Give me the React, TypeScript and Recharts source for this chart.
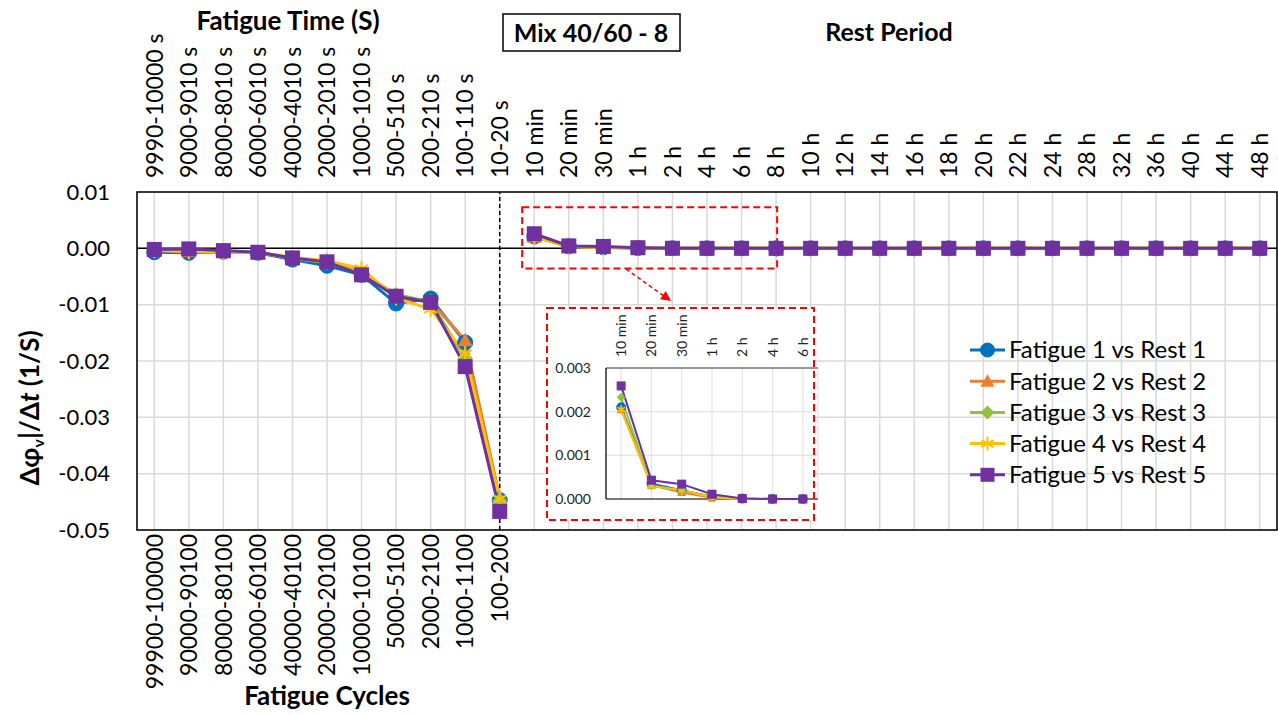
import React from 'react';
import { LineChart, Line, XAxis, YAxis, CartesianGrid, ReferenceLine, ReferenceArea } from 'recharts';

const FONT = 'Lato, "Open Sans", sans-serif';

const fatigueTimeLabels = ['9990-10000 s', '9000-9010 s', '8000-8010 s', '6000-6010 s', '4000-4010 s', '2000-2010 s', '1000-1010 s', '500-510 s', '200-210 s', '100-110 s', '10-20 s'];
const fatigueCycleLabels = ['99900-100000', '90000-90100', '80000-80100', '60000-60100', '40000-40100', '20000-20100', '10000-10100', '5000-5100', '2000-2100', '1000-1100', '100-200'];
const restLabels = ['10 min', '20 min', '30 min', '1 h', '2 h', '4 h', '6 h', '8 h', '10 h', '12 h', '14 h', '16 h', '18 h', '20 h', '22 h', '24 h', '28 h', '32 h', '36 h', '40 h', '44 h', '48 h'];
const yTicks = [-0.05, -0.04, -0.03, -0.02, -0.01, 0, 0.01];
const insetYTicks = [0, 0.001, 0.002, 0.003];

const fatigue1 = [-0.0007, -0.0008, -0.0006, -0.0008, -0.0020, -0.0031, -0.0047, -0.0098, -0.0089, -0.0167, -0.0447];
const fatigue2 = [-0.0003, -0.0005, -0.0007, -0.0007, -0.0018, -0.0025, -0.0042, -0.0087, -0.0094, -0.0163, -0.0443];
const fatigue3 = [-0.0003, -0.0004, -0.0005, -0.0007, -0.0017, -0.0025, -0.0043, -0.0082, -0.0095, -0.0195, -0.0448];
const fatigue4 = [-0.0004, -0.0006, -0.0006, -0.0008, -0.0016, -0.0022, -0.0036, -0.0088, -0.0108, -0.0187, -0.0445];
const fatigue5 = [-0.0002, -0.0001, -0.0004, -0.0007, -0.0017, -0.0024, -0.0047, -0.0085, -0.0096, -0.0210, -0.0467];

const rest1 = [0.0021, 0.00035, 0.0002, 0.00005, 0.00001, 0, 0, 0, 0, 0, 0, 0, 0, 0, 0, 0, 0, 0, 0, 0, 0, 0];
const rest2 = [0.00205, 0.00032, 0.00015, 0.00003, 0, 0, 0, 0, 0, 0, 0, 0, 0, 0, 0, 0, 0, 0, 0, 0, 0, 0];
const rest3 = [0.00233, 0.0003, 0.0002, 0.00005, 0.00001, 0, 0, 0, 0, 0, 0, 0, 0, 0, 0, 0, 0, 0, 0, 0, 0, 0];
const rest4 = [0.00205, 0.0003, 0.0002, 0.00004, 0, 0, 0, 0, 0, 0, 0, 0, 0, 0, 0, 0, 0, 0, 0, 0, 0, 0];
const rest5 = [0.00259, 0.00043, 0.00034, 0.00011, 0.00001, 0, 0, 0, 0, 0, 0, 0, 0, 0, 0, 0, 0, 0, 0, 0, 0, 0];

const seriesNames = ['Fatigue 1 vs Rest 1', 'Fatigue 2 vs Rest 2', 'Fatigue 3 vs Rest 3', 'Fatigue 4 vs Rest 4', 'Fatigue 5 vs Rest 5'];
const seriesColors = ['#0070C0', '#ED7D31', '#8CC43F', '#FFC000', '#7030A0'];
const seriesShapes = ['circle', 'triangle', 'diamond', 'star', 'square'];

const fatigueSeries = [fatigue1, fatigue2, fatigue3, fatigue4, fatigue5];
const restSeries = [rest1, rest2, rest3, rest4, rest5];

const topLabels = [...fatigueTimeLabels, ...restLabels];
const nFat = fatigueTimeLabels.length;
const nCat = topLabels.length;
const insetCount = 7;

// fatigue part (f*) and rest part (r*) are separate segments, not joined across the divider
const mainData = topLabels.map((_, i) => {
  const row: any = { idx: i };
  for (let s = 0; s < 5; s++) {
    row[`f${s}`] = i < nFat ? fatigueSeries[s][i] : null;
    row[`r${s}`] = i >= nFat ? restSeries[s][i - nFat] : null;
  }
  return row;
});

const insetData = restLabels.slice(0, insetCount).map((_, j) => {
  const row: any = { idx: j };
  for (let s = 0; s < 5; s++) row[`r${s}`] = restSeries[s][j];
  return row;
});

function Marker({ shape, cx, cy, size, color }: any) {
  const h = size / 2;
  switch (shape) {
    case 'circle':
      return <circle cx={cx} cy={cy} r={h} fill={color} stroke={color} />;
    case 'triangle':
      return <polygon points={`${cx},${cy - h} ${cx + h},${cy + h * 0.8} ${cx - h},${cy + h * 0.8}`} fill={color} />;
    case 'diamond':
      return <polygon points={`${cx},${cy - h} ${cx + h},${cy} ${cx},${cy + h} ${cx - h},${cy}`} fill={color} />;
    case 'star':
      return (
        <g stroke={color} strokeWidth={Math.max(1.5, size / 7)}>
          <line x1={cx} y1={cy - h} x2={cx} y2={cy + h} />
          <line x1={cx - h * 0.87} y1={cy - h * 0.5} x2={cx + h * 0.87} y2={cy + h * 0.5} />
          <line x1={cx - h * 0.87} y1={cy + h * 0.5} x2={cx + h * 0.87} y2={cy - h * 0.5} />
        </g>
      );
    default:
      return <rect x={cx - h} y={cy - h} width={size} height={size} fill={color} />;
  }
}

const makeDot = (s: number, size: number, prefix: string) => (p: any) => {
  if (p.cx == null || p.cy == null || p.value == null) return <g key={`${prefix}-${s}-${p.index}`} />;
  return <Marker key={`${prefix}-${s}-${p.index}`} shape={seriesShapes[s]} cx={p.cx} cy={p.cy} size={size} color={seriesColors[s]} />;
};

const TopTick = (props: any) => {
  const { x, y, payload } = props;
  const label = topLabels[payload.value];
  return (
    <text x={x} y={y} transform={`rotate(-90, ${x}, ${y})`} textAnchor="start" dy="0.36em" fontSize={23} fontFamily={FONT} fill="#000">
      {label}
    </text>
  );
};

const BottomTick = (props: any) => {
  const { x, y, payload } = props;
  const label = fatigueCycleLabels[payload.value];
  if (!label) return <g />;
  return (
    <text x={x} y={y} transform={`rotate(-90, ${x}, ${y})`} textAnchor="end" dy="0.36em" fontSize={23} fontFamily={FONT} fill="#000">
      {label}
    </text>
  );
};

const InsetTopTick = (props: any) => {
  const { x, y, payload } = props;
  const label = restLabels[payload.value];
  return (
    <text x={x} y={y} transform={`rotate(-90, ${x}, ${y})`} textAnchor="start" dy="0.36em" fontSize={14} fontFamily={FONT} fill="#222">
      {label}
    </text>
  );
};

const catTicks = topLabels.map((_, i) => i);
const insetTicks = restLabels.slice(0, insetCount).map((_, i) => i);

export default function App() {
  return (
    <div style={{ position: 'absolute', left: 0, top: 0, width: 1278, height: 715, background: '#fff', overflow: 'hidden' }}>
      <div style={{ position: 'absolute', left: 0, top: 0 }}>
        <LineChart width={1278} height={715} data={mainData} margin={{ top: 0, right: 1, bottom: 0, left: 0 }}>
          <CartesianGrid xAxisId="bottom" stroke="#D9D9D9" strokeWidth={1.5} />
          <XAxis xAxisId="top" orientation="top" type="number" dataKey="idx" domain={[-0.5, nCat - 0.5]} ticks={catTicks} interval={0} height={192} tickLine={false} axisLine={false} tickSize={0} tickMargin={14} tick={<TopTick />} />
          <XAxis xAxisId="bottom" orientation="bottom" type="number" dataKey="idx" domain={[-0.5, nCat - 0.5]} ticks={catTicks} interval={0} height={185} tickLine={false} axisLine={false} tickSize={0} tickMargin={4} tick={<BottomTick />} />
          <YAxis type="number" domain={[-0.05, 0.01]} ticks={yTicks} interval={0} width={137} tickLine={false} axisLine={false} tickSize={0} tickMargin={27} tickFormatter={(v: number) => v.toFixed(2)} tick={{ fontSize: 22, fill: '#000', fontFamily: FONT }} />
          <ReferenceLine xAxisId="bottom" y={0} stroke="#000" strokeWidth={1.5} />
          <ReferenceLine xAxisId="bottom" x={nFat - 1} stroke="#000" strokeWidth={1.5} strokeDasharray="4 3" />
          <ReferenceArea xAxisId="bottom" x1={-0.5} x2={nCat - 0.5} y1={-0.05} y2={0.01} fill="none" stroke="#000" strokeWidth={1.5} />
          {[0, 1, 2, 3, 4].map((s) => (
            <Line key={`f${s}`} xAxisId="bottom" type="linear" dataKey={`f${s}`} name={seriesNames[s]} stroke={seriesColors[s]} strokeWidth={3} connectNulls={false} dot={makeDot(s, 15, 'mf')} activeDot={false} isAnimationActive={false} />
          ))}
          {[0, 1, 2, 3, 4].map((s) => (
            <Line key={`r${s}`} xAxisId="bottom" type="linear" dataKey={`r${s}`} name={seriesNames[s]} stroke={seriesColors[s]} strokeWidth={3} connectNulls={false} dot={makeDot(s, 15, 'mr')} activeDot={false} isAnimationActive={false} legendType="none" />
          ))}
          <ReferenceArea xAxisId="bottom" x1={10.65} x2={18.03} y1={-0.0036} y2={0.0073} fill="none" stroke="#FF0000" strokeWidth={2} strokeDasharray="7 4" />
        </LineChart>
      </div>

      <svg style={{ position: 'absolute', left: 0, top: 0 }} width={1278} height={715}>
        <rect x={547} y={308} width={267} height={212} fill="#fff" />
      </svg>

      <div style={{ position: 'absolute', left: 547, top: 308 }}>
        <LineChart width={280} height={212} data={insetData} margin={{ top: 0, right: 9, bottom: 21, left: 0 }}>
          <CartesianGrid xAxisId="top" stroke="#E3E3E3" strokeWidth={1.2} />
          <XAxis xAxisId="top" orientation="top" type="number" dataKey="idx" domain={[-0.5, insetCount - 0.5]} ticks={insetTicks} interval={0} height={60} tickLine={false} axisLine={false} tickSize={0} tickMargin={11} tick={<InsetTopTick />} />
          <YAxis type="number" domain={[0, 0.003]} ticks={insetYTicks} interval={0} width={59} tickLine={false} axisLine={{ stroke: '#000', strokeWidth: 1.2 }} tickSize={0} tickMargin={15} tickFormatter={(v: number) => v.toFixed(3)} tick={{ fontSize: 14, fill: '#222', fontFamily: FONT }} />
          <ReferenceLine xAxisId="top" y={0.003} stroke="#404040" strokeWidth={1.2} />
          <ReferenceLine xAxisId="top" y={0} stroke="#000" strokeWidth={1.2} />
          {[0, 1, 2, 3, 4].map((s) => (
            <Line key={`i${s}`} xAxisId="top" type="linear" dataKey={`r${s}`} name={seriesNames[s]} stroke={seriesColors[s]} strokeWidth={2} dot={makeDot(s, 9, 'i')} activeDot={false} isAnimationActive={false} />
          ))}
        </LineChart>
      </div>

      <svg style={{ position: 'absolute', left: 0, top: 0, pointerEvents: 'none' }} width={1278} height={715} fontFamily={FONT}>
        <rect x={547} y={308} width={267} height={212} fill="none" stroke="#FF0000" strokeWidth={2} strokeDasharray="7 4" />
        <line x1={626} y1={269} x2={664} y2={296} stroke="#FF0000" strokeWidth={1.5} strokeDasharray="4 3" />
        <polygon points="671,301 660,299.2 665.8,291.1" fill="#FF0000" />

        <text x={288} y={30} textAnchor="middle" fontSize={26} fontWeight="bold" fill="#000">Fatigue Time (S)</text>
        <rect x={503} y={14} width={177} height={37} fill="#fff" stroke="#000" strokeWidth={1.5} />
        <text x={591} y={42} textAnchor="middle" fontSize={25} fontWeight="bold" fill="#000">Mix 40/60 - 8</text>
        <text x={889} y={41} textAnchor="middle" fontSize={25} fontWeight="bold" fill="#000">Rest Period</text>
        <text x={327} y={705} textAnchor="middle" fontSize={26} fontWeight="bold" fill="#000">Fatigue Cycles</text>

        <text x={30} y={408} transform="rotate(-90, 30, 408)" textAnchor="middle" dy="0.36em" fontSize={26} fontWeight="bold" fill="#000">
          Δφ<tspan fontSize={16} dy={5}>v</tspan><tspan dy={-5}>|/Δ</tspan><tspan fontStyle="italic">t</tspan> (1/S)
        </text>

        {seriesNames.map((name, s) => {
          const cy = 350 + s * 31.2;
          return (
            <g key={name}>
              <line x1={970} y1={cy} x2={1005} y2={cy} stroke={seriesColors[s]} strokeWidth={3} />
              <Marker shape={seriesShapes[s]} cx={987.5} cy={cy} size={14} color={seriesColors[s]} />
              <text x={1009} y={cy} dy="0.35em" fontSize={24} fill="#000">{name}</text>
            </g>
          );
        })}
      </svg>
    </div>
  );
}
